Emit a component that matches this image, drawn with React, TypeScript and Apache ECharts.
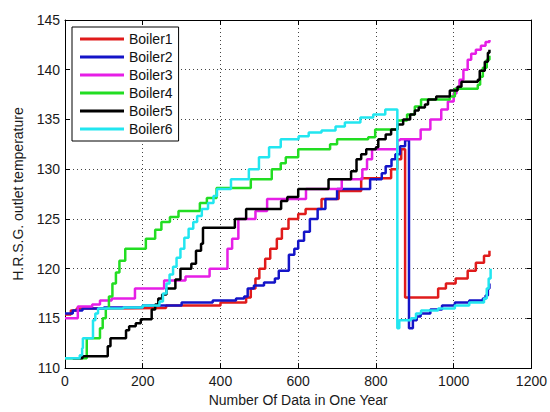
import React, { useEffect, useRef } from "react";
import * as echarts from "echarts";

const seriesNames = ["Boiler1", "Boiler2", "Boiler3", "Boiler4", "Boiler5", "Boiler6"];
const seriesColors = ["#e01b1b", "#1414c8", "#e61ee6", "#22dd22", "#000000", "#22e6f0"];

const xAxisTitle = "Number Of Data in One Year";
const yAxisTitle = "H.R.S.G. outlet temperature";

// Each pair: sample index where a new level starts, and that level
const boiler1X = [0, 15, 30, 100, 260, 400, 466, 478, 490, 500, 515, 528, 545, 558, 575, 600, 619, 660, 704, 762, 839, 855, 865, 875, 960, 980, 1005, 1036, 1057, 1078, 1092];
const boiler1Y = [115.4, 115.8, 116, 116.05, 116.3, 116.6, 117.1, 118, 119, 120, 121, 122, 123, 124, 125, 125.5, 126, 127, 127.8, 129.1, 130, 131, 132, 117.1, 118, 118.5, 119, 119.8, 120.6, 121.3, 121.8];

const boiler2X = [0, 20, 45, 100, 200, 300, 380, 440, 461, 470, 486, 512, 540, 550, 576, 590, 600, 615, 630, 650, 670, 700, 785, 815, 825, 840, 850, 862, 875, 885, 895, 905, 915, 940, 970, 1003, 1040, 1075, 1082, 1088, 1092];
const boiler2Y = [115.5, 115.8, 116, 116.1, 116.3, 116.6, 116.8, 117, 117.2, 118, 118.3, 118.6, 119, 119.8, 121.4, 122, 122.8, 123.7, 125, 126, 127, 128, 129, 129.6, 130.3, 131, 131.5, 132.3, 132.9, 114, 114.8, 115.2, 115.5, 115.9, 116.3, 116.6, 116.8, 117, 117.3, 118, 118.5];

const boiler3X = [0, 33, 70, 90, 120, 180, 255, 310, 372, 418, 430, 446, 490, 520, 620, 712, 765, 777, 790, 855, 862, 915, 940, 968, 985, 1000, 1007, 1015, 1025, 1036, 1045, 1057, 1070, 1082, 1092];
const boiler3Y = [115, 116.2, 116.4, 116.8, 117, 118, 118.8, 119.2, 120, 122, 123, 125, 125.8, 127, 128, 129, 130, 131, 132, 132.9, 133, 134, 135, 136, 136.8, 137.6, 138.2, 139, 140, 141, 141.6, 142, 142.4, 142.8, 143];

const boiler4X = [0, 56, 90, 97, 105, 113, 122, 131, 140, 155, 208, 232, 248, 270, 292, 347, 365, 390, 478, 532, 555, 568, 600, 682, 700, 780, 798, 855, 880, 900, 916, 990, 1003, 1062, 1068, 1075, 1085, 1092];
const boiler4Y = [111, 113, 114, 115, 116, 117.2, 118.5, 119.6, 120.8, 122, 123, 123.9, 124.7, 125.2, 125.8, 126.6, 127.1, 128.1, 129, 130, 130.6, 131.2, 132, 132.5, 133, 133.2, 134, 134.9, 135.5, 136.3, 137, 137.3, 138.1, 138.5, 139.3, 140.2, 141, 141.4];

const boiler5X = [20, 45, 110, 117, 157, 165, 182, 195, 223, 232, 240, 250, 261, 284, 297, 325, 337, 350, 355, 437, 466, 556, 572, 600, 678, 736, 750, 762, 775, 800, 806, 825, 839, 855, 870, 888, 900, 910, 926, 934, 955, 990, 1010, 1020, 1062, 1067, 1080, 1088, 1092];
const boiler5Y = [111, 111.2, 112.2, 113, 113.8, 114.2, 114.5, 114.9, 115.9, 116.4, 117, 117.4, 118, 118.9, 120, 120.5, 121.8, 122.5, 124.1, 125, 126, 126.8, 127.2, 128, 129, 129.8, 131, 131.5, 132, 132.2, 133, 133.5, 134, 134.5, 135, 135.5, 135.9, 136.2, 136.5, 137, 137.3, 137.9, 138.3, 138.8, 139, 139.9, 140.8, 141.7, 142];

const boiler6X = [0, 38, 44, 46, 72, 78, 85, 150, 200, 243, 252, 261, 269, 278, 287, 297, 307, 318, 330, 340, 352, 368, 382, 391, 427, 473, 499, 525, 555, 601, 627, 660, 696, 720, 760, 793, 824, 855, 860, 890, 903, 916, 960, 1003, 1040, 1078, 1085, 1090, 1095];
const boiler6Y = [111, 111.3, 112, 113, 114.8, 115.5, 116, 116.1, 116.3, 116.7, 117.5, 118.5, 119.4, 120.2, 121.1, 122, 123.1, 124, 124.7, 125.3, 126, 126.6, 127.3, 128, 129, 130, 131.2, 132.2, 133, 133.3, 133.7, 133.9, 134.3, 134.7, 135.2, 135.5, 136, 114, 114.8, 115, 115.5, 115.8, 116, 116.3, 116.6, 117, 118, 119, 120];

const allX = [boiler1X, boiler2X, boiler3X, boiler4X, boiler5X, boiler6X];
const allY = [boiler1Y, boiler2Y, boiler3Y, boiler4Y, boiler5Y, boiler6Y];

const xMin = 0, xMax = 1200, xStep = 200;
const yMin = 110, yMax = 145, yStep = 5;

const FONT = "'Liberation Sans', Arial, sans-serif";

export default function App() {
  const ref = useRef<HTMLDivElement>(null);
  useEffect(() => {
    if (!ref.current) return;
    const chart = echarts.init(ref.current, undefined, { renderer: "svg" });
    const tick = { show: true, inside: true, length: 5, lineStyle: { color: "#000", width: 1 } };
    const axisLine = { show: true, onZero: false, lineStyle: { color: "#000", width: 1 } };
    const label = { color: "#1a1a1a", fontSize: 14, fontFamily: FONT, formatter: (v: number) => String(v) };
    const split = { show: true, lineStyle: { color: "#444", type: [1, 3] as any, width: 1 } };
    chart.setOption({
      animation: false,
      backgroundColor: "#fff",
      grid: { left: 65, right: 16, top: 20, bottom: 36, containLabel: false },
      legend: {
        orient: "vertical",
        left: 72,
        top: 27,
        data: seriesNames,
        icon: "rect",
        itemWidth: 44,
        itemHeight: 3,
        itemGap: 4,
        padding: [5, 6, 5, 8],
        borderColor: "#000",
        borderWidth: 1,
        backgroundColor: "#fff",
        textStyle: { fontSize: 14, fontFamily: FONT, color: "#111", lineHeight: 14 },
      },
      xAxis: [
        {
          type: "value", min: xMin, max: xMax, interval: xStep, position: "bottom",
          name: xAxisTitle, nameLocation: "middle", nameGap: 23,
          nameTextStyle: { fontSize: 14, fontFamily: FONT, color: "#1a1a1a" },
          axisLine, axisTick: tick, axisLabel: { ...label, margin: 6 }, splitLine: split,
        },
        {
          type: "value", min: xMin, max: xMax, interval: xStep, position: "top",
          axisLine, axisTick: tick, axisLabel: { show: false }, splitLine: { show: false },
        },
      ],
      yAxis: [
        {
          type: "value", min: yMin, max: yMax, interval: yStep, position: "left",
          name: yAxisTitle, nameLocation: "middle", nameGap: 40,
          nameTextStyle: { fontSize: 14, fontFamily: FONT, color: "#1a1a1a" },
          axisLine, axisTick: tick, axisLabel: { ...label, margin: 5 }, splitLine: split,
        },
        {
          type: "value", min: yMin, max: yMax, interval: yStep, position: "right",
          axisLine, axisTick: tick, axisLabel: { show: false }, splitLine: { show: false },
        },
      ],
      series: seriesNames.map((name, i) => ({
        name,
        type: "line",
        step: "end",
        xAxisIndex: 0,
        yAxisIndex: 0,
        symbol: "none",
        color: seriesColors[i],
        lineStyle: { width: 2.5, color: seriesColors[i] },
        data: allX[i].map((x, k) => [x, allY[i][k]]),
      })),
    });
    return () => chart.dispose();
  }, []);
  return <div ref={ref} style={{ position: "fixed", left: 0, top: 0, width: 550, height: 412 }} />;
}
